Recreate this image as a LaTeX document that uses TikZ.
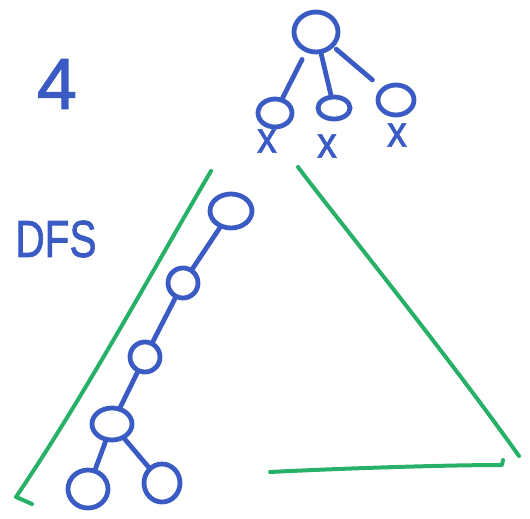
\documentclass[tikz,border=0pt]{standalone}
\usepackage{fontspec}
\setmainfont{Liberation Sans}
\newfontfamily\markerfont[FakeBold=1.6]{Liberation Sans}
\usetikzlibrary{shapes.geometric}
\definecolor{pen}{HTML}{3A5BC4}
\definecolor{grn}{HTML}{27B068}
\tikzset{
  nd/.style={ellipse,draw=pen,line width=4.8pt,inner sep=0pt},
  ed/.style={draw=pen,line width=4.8pt,line cap=round},
  gl/.style={draw=grn,line width=4pt,line cap=round,line join=round},
  cross/.style={text=pen,font=\markerfont\fontsize{44}{44}\selectfont,inner sep=0pt,xscale=0.9}
}
\begin{document}
\begin{tikzpicture}[x=1pt,y=-1pt]
\useasboundingbox (0,0) rectangle (530,519);
% labels
\node[text=pen,font=\markerfont\fontsize{72}{72}\selectfont,inner sep=0pt] (four) at (57,84) {4};
\node[text=pen,font=\markerfont\fontsize{52}{52}\selectfont,inner sep=0pt,xscale=0.78] (dfs) at (56,239) {DFS};
% top tree
\node[nd,minimum width=44pt,minimum height=40pt] (r) at (316,32) {};
\node[nd,minimum width=34pt,minimum height=28pt] (a) at (275,113) {};
\node[nd,minimum width=32pt,minimum height=22pt] (b) at (334,108) {};
\node[nd,minimum width=36pt,minimum height=30pt] (c) at (396,100) {};
\draw[ed,shorten <=8pt] (r) -- (a);
\draw[ed] (r) -- (b);
\draw[ed,shorten <=3pt,shorten >=12pt] (r) -- (c);
\node[cross] (xa) at (267,141) {x};
\node[cross] (xb) at (327,146) {x};
\node[cross] (xc) at (397,135) {x};
% DFS chain
\node[nd,minimum width=42pt,minimum height=34pt] (d1) at (231,211) {};
\node[nd,minimum width=30pt,minimum height=30pt] (d2) at (183,283) {};
\node[nd,minimum width=30pt,minimum height=30pt] (d3) at (145,357) {};
\node[nd,minimum width=40pt,minimum height=32pt] (d4) at (112,424) {};
\node[nd,minimum width=40pt,minimum height=38pt] (d5) at (88,489) {};
\node[nd,minimum width=36pt,minimum height=38pt] (d6) at (162,483) {};
\draw[ed] (d1) -- (d2);
\draw[ed] (d2) -- (d3);
\draw[ed] (d3) -- (d4);
\draw[ed] (d4) -- (d5);
\draw[ed] (d4) -- (d6);
% green triangle sides
\draw[gl] (211,171) .. controls (150,275) and (85,395) .. (16,497) -- (32,504);
\draw[gl] (298,167) .. controls (330,210) and (440,345) .. (519,456);
\draw[gl] (270,472) .. controls (350,468) and (450,465) .. (502,465) -- (503,460);
\end{tikzpicture}
\end{document}
